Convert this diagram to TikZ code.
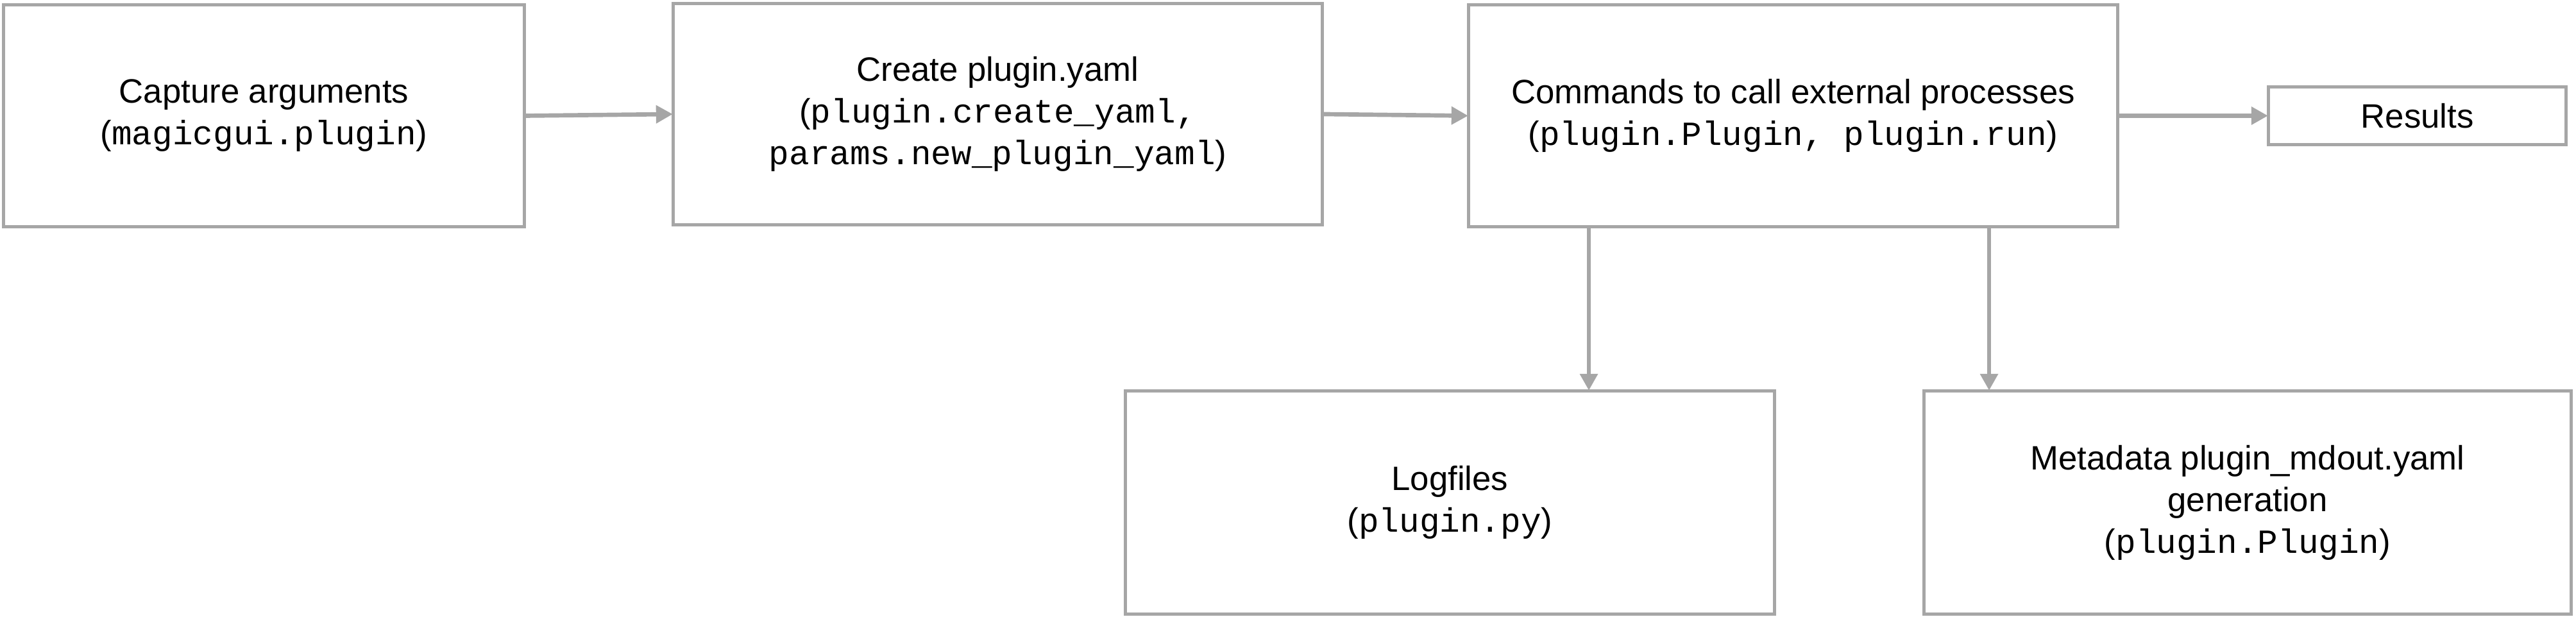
\documentclass[tikz,border=0pt]{standalone}
\usepackage{fontspec}
\setmainfont{Liberation Sans}
\setmonofont{Liberation Mono}
\usetikzlibrary{positioning, arrows.meta, calc}

\definecolor{linegray}{HTML}{A6A6A6}
\tikzset{
	stagebox/.style={draw=linegray, line width=1.4pt, fill=white, inner sep=0pt, align=center,
		font=\fontsize{15}{18.5}\selectfont},
	flow/.style={draw=linegray, line width=1.9pt, -{Triangle[length=2.6mm, width=2.7mm]}, shorten >=-0.5pt},
}

\begin{document}
\begin{tikzpicture}
	\useasboundingbox (0,0) rectangle (40.16,9.62);
	% top row
	\node[stagebox, minimum width=8.12cm, minimum height=3.46cm] (capture) at (4.115, 7.815) {Capture arguments\\(\texttt{magicgui.plugin})};
	\node[stagebox, minimum width=10.12cm, minimum height=3.45cm] (create) at (15.555, 7.84) {Create plugin.yaml\\(\texttt{plugin.create\_yaml,}\\\texttt{params.new\_plugin\_yaml})};
	\node[stagebox, minimum width=10.12cm, minimum height=3.46cm] (commands) at (27.955, 7.815) {Commands to call external processes\\(\texttt{plugin.Plugin, plugin.run})};
	\node[stagebox, minimum width=4.64cm, minimum height=0.9cm] (results) at (37.685, 7.815) {Results};
	% bottom row
	\node[stagebox, minimum width=10.12cm, minimum height=3.48cm] (logfiles) at (22.605, 1.785) {Logfiles\\(\texttt{plugin.py})};
	\node[stagebox, minimum width=10.09cm, minimum height=3.48cm] (metadata) at (35.04, 1.785) {Metadata plugin\_mdout.yaml\\generation\\(\texttt{plugin.Plugin})};

	\draw[flow] (capture.east) -- (create.west);
	\draw[flow] (create.east) -- (commands.west);
	\draw[flow] (commands.east) -- (results.west);

	\coordinate (logx) at (24.77, 0);
	\coordinate (metax) at (31.01, 0);
	\draw[flow] (logx |- commands.south) -- (logx |- logfiles.north);
	\draw[flow] (metax |- commands.south) -- (metax |- metadata.north);
\end{tikzpicture}
\end{document}
